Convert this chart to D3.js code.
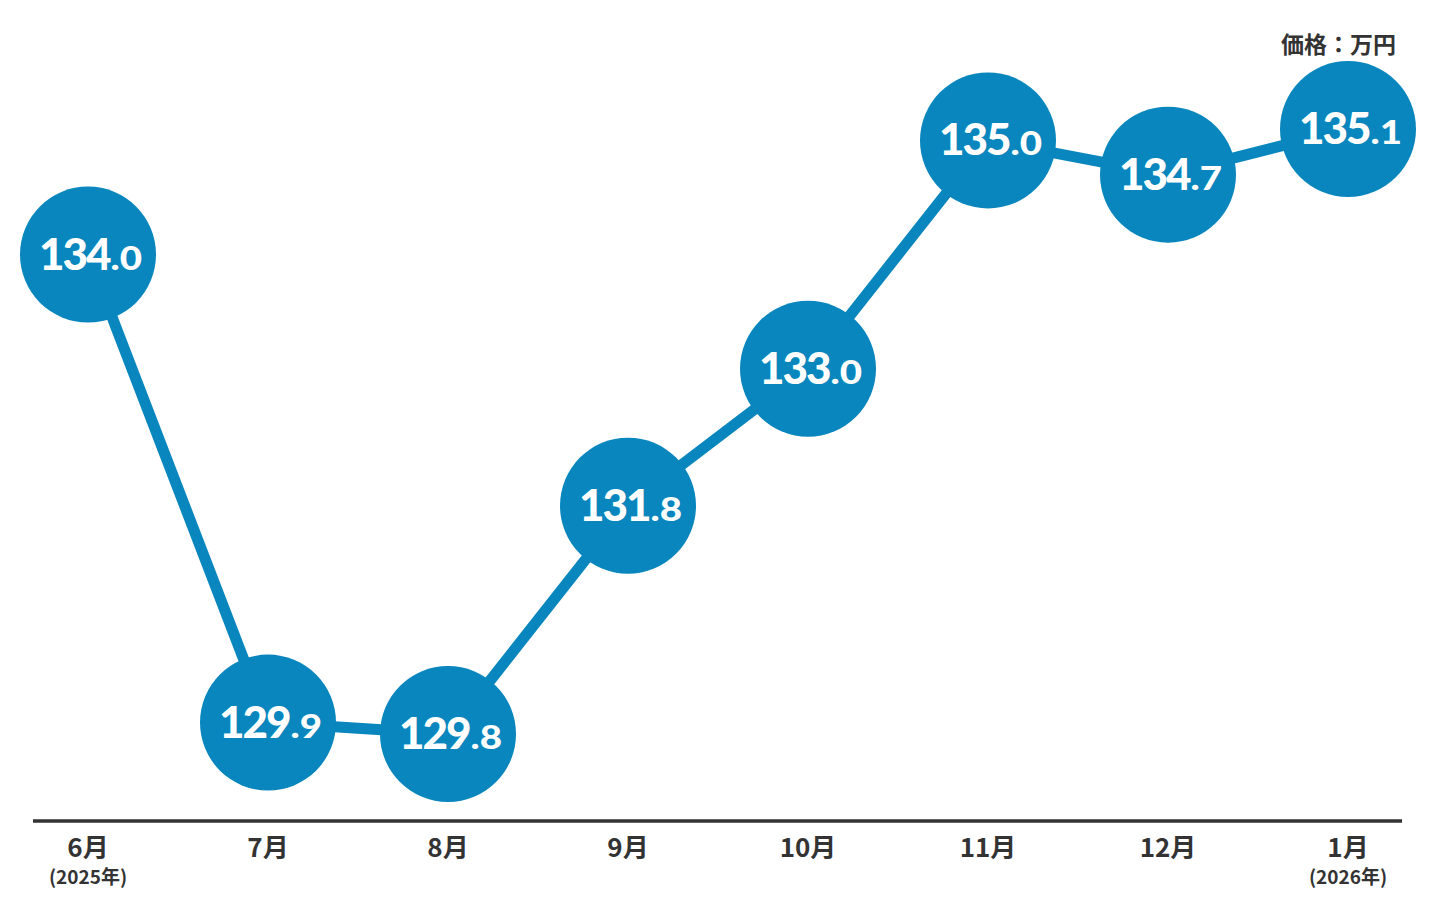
<!DOCTYPE html>
<html>
<head>
<meta charset="utf-8">
<script src="https://cdn.jsdelivr.net/npm/d3@7"></script>
<style>
  body { margin: 0; background: #fff; }
  .vis { width: 1436px; height: 914px; }
</style>
</head>
<body>
<div class="vis"></div>
<script>
const months = ['6月', '7月', '8月', '9月', '10月', '11月', '12月', '1月'];
const years = ['(2025年)', '', '', '', '', '', '', '(2026年)'];
const prices = [134.0, 129.9, 129.8, 131.8, 133.0, 135.0, 134.7, 135.1];
const unitLabel = '価格：万円';

const width = 1436, height = 914;
const blue = '#0886bd';
const dark = '#333333';

const dataset = months.map((m, i) => ({ month: m, year: years[i], price: prices[i] }));

const svg = d3.select('.vis').append('svg')
    .attr('width', width)
    .attr('height', height);

let x = d3.scalePoint()
    .domain(months)
    .range([88, 1348]);
let y = d3.scaleLinear()
    .domain([129.8, 135.1])
    .range([734, 129]);

// baseline
svg.append('line')
    .attr('x1', 33).attr('x2', 1402)
    .attr('y1', 821).attr('y2', 821)
    .attr('stroke', dark)
    .attr('stroke-width', 3.5);

// month labels
const xAxis = svg.append('g').attr('font-family', "'Noto Sans CJK JP', 'Noto Sans', sans-serif");
xAxis.selectAll('.month')
    .data(dataset)
    .enter().append('text')
    .attr('x', d => x(d.month))
    .attr('y', 857)
    .attr('text-anchor', 'middle')
    .attr('font-size', 26)
    .attr('font-weight', 700)
    .attr('fill', dark)
    .text(d => d.month);
xAxis.selectAll('.year')
    .data(dataset.filter(d => d.year))
    .enter().append('text')
    .attr('x', d => x(d.month))
    .attr('y', 884)
    .attr('text-anchor', 'middle')
    .attr('font-size', 19)
    .attr('font-weight', 700)
    .attr('fill', dark)
    .text(d => d.year);

// unit label
svg.append('text')
    .attr('x', 1396)
    .attr('y', 53)
    .attr('text-anchor', 'end')
    .attr('font-family', "'Noto Sans CJK JP', sans-serif")
    .attr('font-size', 23)
    .attr('font-weight', 700)
    .attr('fill', dark)
    .text(unitLabel);

// line
const line = d3.line()
    .x(d => x(d.month))
    .y(d => y(d.price));
svg.append('path')
    .datum(dataset)
    .attr('d', line)
    .attr('fill', 'none')
    .attr('stroke', blue)
    .attr('stroke-width', 11);

// bubbles
const bubble = svg.selectAll('.bubble')
    .data(dataset)
    .enter().append('g')
    .attr('class', 'bubble')
    .attr('transform', d => 'translate(' + x(d.month) + ',' + y(d.price) + ')');

bubble.append('circle')
    .attr('r', 68)
    .attr('fill', blue);

// value: big integer part + smaller, wider decimal part
const decScale = 1.2;
bubble.each(function(d) {
    const g = d3.select(this);
    const intPart = g.append('text')
        .attr('y', 15)
        .attr('font-family', 'Lato, sans-serif')
        .attr('font-weight', 900)
        .attr('font-size', 44)
        .attr('letter-spacing', -2)
        .attr('fill', '#fff')
        .text(Math.floor(d.price));
    const decPart = g.append('text')
        .attr('font-family', 'Lato, sans-serif')
        .attr('font-weight', 900)
        .attr('font-size', 32)
        .attr('fill', '#fff')
        .text('.' + d.price.toFixed(1).split('.')[1]);
    const w1 = intPart.node().getComputedTextLength();
    const w2 = decPart.node().getComputedTextLength() * decScale;
    const start = -(w1 + w2) / 2 + 2;
    intPart.attr('x', start);
    decPart.attr('transform', 'translate(' + (start + w1 + 1) + ',15) scale(' + decScale + ',1)');
});
</script>
</body>
</html>
